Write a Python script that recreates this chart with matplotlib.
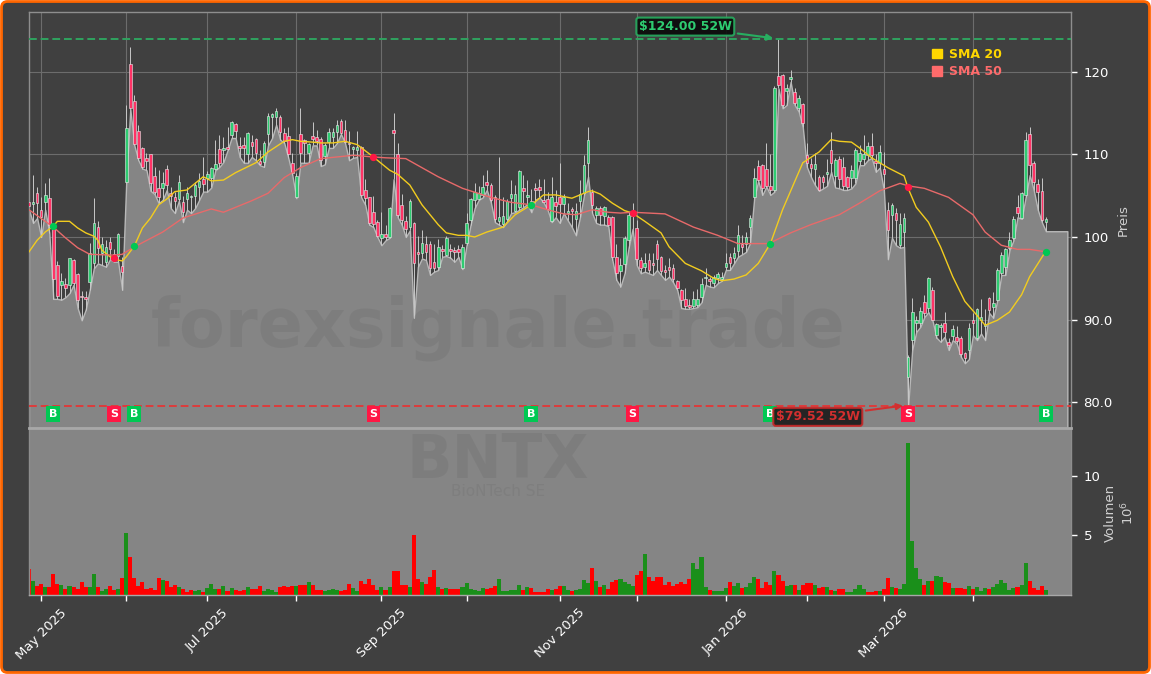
import matplotlib
matplotlib.use("Agg")
import matplotlib.pyplot as plt
from matplotlib.patches import FancyBboxPatch, Patch
from matplotlib.transforms import IdentityTransform
import numpy as np

opens = [
    104.2, 104.0, 105.3, 103.3, 104.2, 104.7, 101.3, 96.6, 94.2, 94.3,
    94.2, 97.2, 95.5, 92.9, 92.7, 94.5, 96.9, 101.2, 98.0, 97.0,
    99.4, 97.9, 97.7, 96.5, 106.7, 121.0, 116.5, 112.8, 110.8, 109.6,
    110.0, 107.4, 105.9, 105.9, 108.2, 105.3, 104.8, 104.6, 104.2, 104.6,
    104.9, 105.0, 106.0, 107.0, 107.2, 107.2, 108.3, 110.7, 110.5, 110.9,
    112.4, 113.7, 111.0, 111.1, 110.0, 111.5, 111.9, 109.2, 109.1, 112.5,
    114.6, 114.5, 114.5, 112.6, 112.2, 109.0, 104.9, 112.5, 111.8, 110.2,
    112.2, 112.1, 111.9, 109.8, 111.5, 112.1, 112.7, 114.0, 113.0, 111.4,
    110.7, 110.6, 110.9, 105.7, 104.8, 103.0, 101.8, 99.9, 100.4, 100.0,
    113.0, 110.0, 103.9, 101.9, 101.2, 101.7, 98.2, 98.0, 99.2, 99.2,
    97.0, 96.4, 98.5, 97.8, 98.5, 98.4, 98.5, 96.2, 99.3, 102.0,
    104.5, 104.6, 105.1, 106.7, 106.3, 104.8, 101.9, 101.6, 102.2, 104.7,
    103.2, 103.6, 105.9, 104.9, 104.4, 105.9, 106.0, 104.5, 104.6, 101.9,
    104.2, 104.8, 104.0, 102.9, 103.4, 102.2, 104.4, 105.3, 109.0, 105.5,
    102.7, 103.5, 102.6, 102.4, 102.4, 97.6, 95.9, 96.7, 99.6, 102.5,
    101.1, 97.2, 96.4, 97.2, 96.8, 99.2, 97.6, 96.0, 96.4, 96.2,
    94.7, 93.6, 92.5, 91.7, 91.6, 91.7, 92.7, 95.0, 94.9, 94.4,
    95.0, 94.9, 96.4, 97.6, 97.5, 98.3, 99.1, 99.1, 101.2, 104.8,
    108.6, 108.7, 108.3, 106.2, 105.7, 119.5, 119.6, 117.7, 119.2, 117.6,
    115.6, 116.1, 109.9, 108.9, 108.2, 107.3, 107.3, 107.6, 110.5, 107.4,
    109.5, 108.5, 107.3, 107.2, 107.2, 109.2, 109.5, 109.9, 111.0, 109.2,
    109.0, 108.2, 103.3, 102.7, 102.9, 99.0, 100.6, 83.0, 87.5, 89.6,
    89.6, 92.1, 91.4, 93.6, 88.1, 89.1, 89.6, 87.3, 88.0, 87.9,
    87.8, 85.9, 86.3, 89.9, 87.8, 90.0, 89.2, 92.6, 91.5, 92.4,
    95.6, 96.4, 98.7, 99.9, 103.6, 102.3, 105.1, 112.5, 109.0, 106.4,
    105.6, 101.8,
]
highs = [
    107.8, 107.5, 106.0, 104.8, 106.5, 107.2, 101.5, 97.1, 95.6, 95.0,
    97.5, 97.3, 95.6, 93.5, 93.4, 99.3, 104.7, 101.9, 100.0, 99.6,
    100.0, 98.6, 100.5, 97.6, 116.0, 123.0, 117.2, 113.6, 110.9, 110.2,
    110.1, 108.5, 108.1, 107.9, 108.7, 106.0, 105.5, 107.5, 105.0, 106.0,
    105.1, 106.7, 107.8, 109.7, 108.0, 108.5, 111.8, 112.4, 112.1, 113.3,
    114.1, 113.8, 112.1, 112.1, 112.7, 112.4, 112.0, 110.5, 111.6, 115.0,
    115.0, 115.6, 114.8, 113.2, 113.3, 110.2, 107.7, 115.6, 111.9, 111.4,
    113.9, 113.0, 112.1, 111.4, 113.2, 113.2, 114.2, 114.3, 114.2, 112.9,
    111.0, 112.8, 111.0, 107.0, 104.9, 105.0, 102.0, 103.0, 101.5, 103.6,
    115.0, 111.4, 105.2, 102.5, 104.6, 101.8, 100.1, 100.8, 100.1, 99.5,
    99.2, 99.7, 99.0, 100.1, 99.2, 98.8, 99.0, 99.2, 102.9, 104.7,
    106.5, 106.2, 107.5, 108.1, 106.5, 105.1, 109.7, 104.8, 104.6, 106.9,
    106.3, 108.1, 107.5, 106.9, 105.8, 106.6, 107.0, 107.0, 105.4, 107.3,
    105.7, 109.0, 105.2, 104.1, 103.6, 104.1, 106.9, 109.9, 113.3, 105.8,
    103.8, 103.8, 103.8, 102.7, 102.6, 99.2, 97.5, 100.1, 103.0, 104.1,
    102.0, 97.6, 98.1, 98.0, 98.1, 99.6, 97.7, 96.6, 97.4, 96.7,
    94.8, 93.7, 93.8, 92.5, 93.5, 93.7, 95.0, 96.2, 95.2, 95.4,
    95.7, 95.8, 98.0, 98.0, 98.8, 101.5, 100.2, 100.6, 102.7, 108.4,
    109.3, 108.9, 111.4, 110.1, 118.3, 124.0, 119.7, 118.6, 120.2, 118.0,
    117.2, 116.3, 111.4, 109.6, 110.2, 107.5, 107.5, 109.5, 112.7, 109.6,
    109.8, 109.7, 107.4, 108.7, 110.8, 111.2, 112.4, 111.5, 112.6, 110.0,
    111.2, 110.3, 104.2, 104.1, 103.5, 102.9, 102.9, 85.7, 92.6, 90.4,
    91.5, 93.0, 95.2, 94.0, 89.6, 89.6, 90.9, 87.8, 89.3, 89.2,
    88.0, 86.1, 89.6, 90.8, 91.4, 92.5, 91.3, 92.7, 93.3, 96.2,
    98.2, 98.7, 100.6, 102.5, 105.1, 105.5, 112.7, 113.3, 109.2, 107.0,
    107.1, 102.4,
]
lows = [
    103.3, 101.7, 102.3, 100.0, 103.3, 100.5, 92.5, 92.5, 92.4, 92.7,
    93.2, 94.2, 91.4, 89.9, 91.2, 93.6, 96.2, 96.8, 96.6, 96.4,
    97.3, 97.0, 97.0, 93.6, 106.6, 115.5, 111.1, 109.3, 108.3, 108.1,
    105.6, 105.2, 104.1, 104.5, 105.7, 103.5, 102.9, 104.4, 101.8, 103.3,
    102.9, 103.5, 104.5, 105.5, 105.5, 106.0, 108.1, 108.5, 109.1, 110.5,
    112.0, 112.0, 109.7, 109.0, 109.0, 109.7, 109.3, 108.7, 108.5, 111.1,
    112.0, 113.6, 111.8, 111.4, 109.6, 107.5, 104.7, 109.0, 109.0, 109.0,
    111.1, 111.1, 108.6, 108.8, 110.8, 110.8, 111.4, 112.5, 111.4, 109.3,
    109.6, 109.7, 104.8, 103.9, 101.5, 101.2, 100.0, 99.0, 99.6, 99.9,
    107.0, 102.4, 101.5, 100.0, 100.8, 90.2, 96.4, 97.4, 97.2, 95.4,
    95.8, 96.0, 97.6, 97.7, 97.5, 97.0, 97.6, 96.1, 99.0, 101.5,
    103.5, 104.5, 104.8, 105.7, 104.2, 101.8, 101.5, 101.2, 101.9, 102.9,
    103.0, 103.3, 103.6, 104.0, 103.0, 104.5, 104.8, 104.2, 103.3, 101.8,
    102.4, 101.7, 102.9, 102.0, 101.2, 100.2, 102.4, 105.1, 107.3, 102.9,
    101.7, 101.5, 101.5, 101.3, 97.2, 94.8, 94.0, 95.6, 98.7, 101.0,
    96.6, 95.6, 95.8, 95.6, 95.4, 96.0, 95.4, 94.8, 95.2, 94.5,
    93.6, 91.4, 91.3, 91.3, 91.4, 91.5, 92.1, 94.2, 94.0, 93.9,
    94.4, 94.7, 96.0, 96.0, 96.8, 97.6, 97.9, 98.2, 99.3, 104.7,
    106.8, 105.1, 106.1, 105.1, 105.5, 118.0, 115.6, 116.0, 118.8, 116.0,
    115.2, 113.3, 108.5, 107.3, 106.3, 105.6, 105.9, 106.2, 107.9, 106.0,
    105.9, 105.7, 105.7, 105.9, 106.5, 108.7, 108.7, 109.3, 109.6, 107.9,
    108.4, 105.7, 97.3, 99.9, 99.0, 98.7, 98.8, 79.52, 86.3, 88.5,
    89.1, 90.3, 90.9, 89.9, 87.8, 87.3, 87.9, 86.3, 87.5, 87.1,
    85.5, 84.7, 85.2, 88.1, 87.5, 88.3, 87.5, 90.8, 90.2, 92.3,
    95.4, 95.4, 98.4, 99.6, 102.4, 102.2, 104.8, 107.5, 105.7, 103.3,
    101.8, 100.7,
]
closes = [
    103.7, 104.2, 104.1, 102.4, 105.1, 101.5, 94.9, 92.8, 94.7, 93.8,
    97.4, 94.4, 92.4, 92.7, 92.5, 98.0, 101.7, 98.7, 99.2, 98.8,
    98.5, 97.5, 100.4, 95.8, 113.2, 115.6, 111.3, 109.6, 108.5, 109.2,
    106.5, 105.5, 104.8, 106.5, 106.3, 105.0, 104.4, 106.7, 103.0, 105.3,
    105.0, 106.3, 106.8, 106.4, 107.6, 108.4, 108.9, 109.0, 110.8, 110.7,
    113.9, 112.8, 110.8, 110.8, 112.6, 111.0, 110.2, 108.9, 111.4, 114.7,
    114.9, 115.3, 112.7, 111.6, 110.0, 107.8, 107.4, 110.2, 111.4, 111.3,
    111.9, 111.6, 109.3, 111.2, 112.7, 112.7, 113.6, 112.6, 111.5, 111.3,
    110.9, 110.9, 105.1, 104.7, 101.7, 101.6, 100.1, 100.4, 100.0, 103.5,
    112.6, 102.7, 102.0, 101.0, 104.4, 96.8, 97.9, 99.3, 98.2, 96.2,
    96.2, 98.8, 98.3, 99.9, 98.3, 98.2, 98.2, 98.8, 101.7, 104.6,
    105.5, 105.3, 106.0, 106.3, 104.5, 102.2, 102.4, 102.5, 104.4, 105.2,
    105.2, 108.0, 105.6, 105.1, 103.9, 105.7, 105.7, 104.3, 103.4, 104.8,
    103.8, 104.0, 104.8, 103.2, 103.2, 103.2, 105.2, 108.7, 111.8, 103.9,
    103.5, 102.7, 103.6, 101.5, 97.6, 95.6, 96.6, 99.9, 102.7, 103.0,
    97.3, 96.2, 96.8, 96.0, 96.6, 97.3, 95.9, 95.8, 96.0, 94.9,
    93.8, 92.4, 91.6, 91.5, 92.5, 92.5, 94.3, 95.2, 94.7, 95.2,
    95.5, 95.2, 96.8, 96.8, 98.1, 100.2, 98.8, 100.0, 102.3, 107.1,
    106.9, 105.9, 106.2, 105.7, 118.0, 118.4, 116.0, 118.0, 119.4, 116.2,
    116.8, 113.8, 109.0, 108.4, 108.9, 105.7, 106.7, 107.9, 109.0, 109.3,
    107.0, 106.2, 106.0, 108.1, 110.5, 110.2, 110.0, 111.0, 109.9, 109.0,
    110.3, 107.6, 100.8, 103.9, 102.0, 101.6, 102.3, 85.4, 90.9, 90.0,
    91.0, 90.8, 95.0, 90.0, 89.5, 89.3, 88.5, 86.9, 88.8, 87.4,
    85.8, 85.3, 89.0, 89.6, 91.3, 90.3, 89.4, 91.2, 92.0, 96.0,
    97.8, 98.5, 99.6, 102.2, 102.9, 105.3, 111.8, 108.7, 106.7, 105.5,
    102.0, 102.2,
]
volumes = [
    2.17, 1.17, 0.75, 0.92, 0.67, 0.67, 1.75, 0.92, 0.83, 0.5,
    0.75, 0.67, 0.5, 1.08, 0.67, 0.67, 1.75, 0.67, 0.33, 0.5,
    0.75, 0.42, 0.5, 1.42, 5.25, 3.17, 1.42, 0.75, 1.08, 0.5,
    0.58, 0.42, 1.42, 1.25, 1.17, 0.67, 0.83, 0.67, 0.5, 0.25,
    0.42, 0.33, 0.42, 0.25, 0.58, 0.92, 0.5, 0.5, 0.75, 0.33,
    0.58, 0.42, 0.33, 0.42, 0.67, 0.5, 0.5, 0.75, 0.33, 0.5,
    0.42, 0.25, 0.67, 0.75, 0.67, 0.75, 0.75, 0.83, 0.83, 1.08,
    0.83, 0.42, 0.42, 0.33, 0.42, 0.5, 0.42, 0.33, 0.42, 0.92,
    0.58, 0.33, 1.17, 0.92, 1.33, 0.83, 0.42, 0.67, 0.42, 0.67,
    2.0, 2.0, 0.83, 0.83, 0.67, 5.08, 1.33, 1.08, 0.92, 1.5,
    2.08, 0.67, 0.5, 0.58, 0.5, 0.5, 0.5, 0.67, 1.0, 0.5,
    0.42, 0.33, 0.58, 0.5, 0.58, 0.75, 1.33, 0.33, 0.33, 0.42,
    0.42, 0.83, 0.42, 0.67, 0.58, 0.25, 0.25, 0.25, 0.5, 0.42,
    0.5, 0.75, 0.75, 0.42, 0.33, 0.42, 0.5, 1.25, 1.0, 2.25,
    1.17, 0.67, 0.83, 0.5, 1.08, 1.25, 1.33, 1.08, 0.92, 0.75,
    1.67, 2.0, 3.42, 1.5, 1.17, 1.5, 1.5, 0.83, 1.08, 0.75,
    0.92, 1.08, 0.92, 1.33, 2.67, 2.17, 3.17, 0.67, 0.42, 0.33,
    0.33, 0.33, 0.58, 1.08, 0.75, 1.0, 0.58, 0.67, 1.0, 1.5,
    1.33, 0.6, 1.08, 0.83, 2.0, 1.67, 1.17, 0.75, 0.83, 0.83,
    0.42, 0.83, 1.0, 1.0, 0.83, 0.58, 0.67, 0.67, 0.42, 0.33,
    0.5, 0.5, 0.25, 0.25, 0.5, 0.83, 0.5, 0.25, 0.25, 0.33,
    0.33, 0.5, 1.42, 0.67, 0.58, 0.5, 0.92, 12.75, 4.5, 2.25,
    1.33, 0.83, 1.17, 1.17, 1.58, 1.5, 1.08, 1.0, 0.58, 0.58,
    0.58, 0.5, 0.75, 0.5, 0.67, 0.33, 0.58, 0.5, 0.67, 0.92,
    1.25, 1.0, 0.42, 0.58, 0.67, 0.83, 2.67, 1.17, 0.58, 0.42,
    0.75, 0.42,
]
# r / g per volume bar
vol_dir = (
    "rgrrgrrrgr" "grrrrggrgg" "rrgrgrrrrr" "rrrgrrrgrr" "rggrgggrgr"
    "grrrgrrrgg" "ggrrrrgrrg" "rrrggggrrr" "ggrrrrrgrg" "rrrrgrrgrr"
    "rgrgrrrggg" "gggrrrgggg" "ggrgrrrrrg" "rrggrggggr" "grgrrrgggg"
    "rrgrrrrrrr" "rrrrggggrg" "gggrggrggg" "rrrrgrrggr" "grrrgrrgrg"
    "rrgggggrrr" "grrgrggggg" "grgrggrrgr" "rrgrgggrgg" "ggggrggrrr"
    "rg"
)

# level of the grey area after the last session
area_tail = [100.7, 100.7, 100.7, 100.7, 100.7]

sma20_idx = [0, 2, 4, 6, 7, 10, 12, 14, 16, 17, 18, 19, 20, 21, 22, 23, 24, 26, 28, 30,
             32, 34, 36, 39, 43, 45, 48, 51, 56, 59, 63, 65, 67, 70, 72, 75, 78, 81, 85, 89,
             91, 94, 97, 101, 103, 106, 108, 110, 113, 117, 120, 124, 127, 130, 134, 138, 139,
             141, 144, 147, 149, 152, 156, 158, 162, 166, 169, 171, 174, 177, 180, 183, 186,
             191, 195, 198, 200, 203, 205, 208, 212, 216, 217, 219, 222, 225, 228, 231, 234,
             236, 239, 242, 245, 247, 251]
sma20_val = [98.2, 99.6, 100.6, 101.3, 101.9, 101.9, 101.1, 100.5, 100.1, 99.6, 98.4, 98.0, 97.6, 97.5,
             97.2, 97.1, 97.6, 98.9, 101.1, 102.3, 103.9, 104.6, 105.5, 105.7, 107.3, 106.8, 106.9,
             107.8, 109.0, 110.3, 111.6, 111.8, 111.6, 111.5, 111.4, 111.4, 111.6, 111.2, 109.7, 108.1,
             107.6, 106.3, 103.9, 101.5, 100.5, 100.2, 100.2, 100.0, 100.6, 101.2, 102.7, 103.9, 105.1,
             105.1, 104.7, 105.5, 105.6, 105.2, 104.1, 103.2, 102.9, 101.9, 100.5, 98.8, 96.8, 95.9,
             95.0, 94.7, 94.9, 95.4, 96.8, 99.2, 103.3, 109.0, 110.3, 111.8, 111.6, 111.5, 110.8,
             109.6, 108.4, 107.4, 105.9, 103.6, 101.8, 98.8, 95.2, 92.2, 90.5, 89.3, 89.9, 90.9,
             93.0, 95.2, 98.3]
sma50_idx = [0, 6, 9, 12, 15, 21, 23, 26, 33, 38, 45, 48, 55, 59, 63, 67, 72, 80, 85, 88, 93, 97,
             101, 107, 114, 119, 124, 128, 132, 135, 139, 143, 146, 149, 157, 164, 170, 175, 182,
             183, 188, 193, 200, 205, 210, 215, 217, 221, 227, 233, 236, 240, 244, 247, 251]
sma50_val = [103.3, 101.2, 99.9, 98.7, 97.9, 97.8, 97.9, 98.8, 100.6, 102.3, 103.4, 103.0, 104.4, 105.3,
             107.2, 108.4, 109.5, 109.9, 109.7, 109.6, 109.5, 108.4, 107.3, 105.9, 104.8, 104.2, 103.9,
             103.3, 102.8, 102.7, 103.3, 103.0, 102.9, 103.0, 102.8, 101.2, 100.2, 99.2, 99.2, 99.3,
             100.5, 101.5, 102.7, 104.1, 105.6, 106.5, 106.2, 105.9, 104.8, 102.7, 100.6, 99.0, 98.5,
             98.5, 98.2]

signal_idx = [6, 21, 26, 85, 124, 149, 183, 217, 251]
signal_val = [101.3, 97.5, 98.9, 109.7, 103.9, 102.9, 99.2, 106.1, 98.2]
signal_txt = ["B", "S", "B", "S", "B", "S", "B", "S", "B"]

month_ticks = [3, 24, 44, 66, 87, 108, 131, 150, 172, 192, 211, 233]
month_labels = ["May 2025", "", "Jul 2025", "", "Sep 2025", "", "Nov 2025", "", "Jan 2026", "", "Mar 2026", ""]
price_ticks = [80, 90, 100, 110, 120]
price_labels = ["80.0", "90.0", "100", "110", "120"]

high_52w = 124.00
low_52w = 79.52

BG = "#404040"
AREA = "#858585"
GREEN = "#00c853"
RED = "#ff1744"

W, H = 1151, 674
fig = plt.figure(figsize=(W / 100, H / 100), dpi=100, facecolor="white")
fig.add_artist(FancyBboxPatch((1.5, 1.5), W - 3, H - 3, boxstyle="round,pad=0,rounding_size=6",
                              transform=IdentityTransform(), facecolor=BG, edgecolor="#ff6600",
                              linewidth=2, zorder=-10))

ax = fig.add_axes([29 / W, 1 - 428 / H, (1071 - 29) / W, (428 - 12) / H], facecolor=BG)
vax = fig.add_axes([29 / W, 1 - 595 / H, (1071 - 29) / W, (595 - 428) / H], facecolor=AREA)

x = np.arange(len(closes))

# grey area under the lows, runs on a few sessions past the last candle
area_x = np.append(x, [252, 253, 254, 255, 256.3])
area_y = np.array(lows + area_tail)
ax.fill_between(area_x, area_y, 76.85, facecolor=AREA, edgecolor="#b8b8b8", linewidth=1, zorder=1)

# candles
up_flags = np.array(closes) >= np.array(opens)
body_colors = ["#2ecc71" if u else "#ff3366" for u in up_flags]
ax.vlines(x, lows, highs, color="#c8c8c8", linewidth=0.7, zorder=2)
ax.bar(x, np.array(closes) - np.array(opens), bottom=opens, width=0.65, color=body_colors,
       edgecolor="#eeeeee", linewidth=0.4, zorder=3)

ax.plot(sma20_idx, sma20_val, color="#f2cc1f", linewidth=1, zorder=4)
ax.plot(sma50_idx, sma50_val, color="#e86a6a", linewidth=1, zorder=4)

ax.axhline(high_52w, color="#2fa35f", linestyle=(0, (4, 2)), linewidth=1.4, zorder=4)
ax.axhline(low_52w, color="#dd3c3c", linestyle=(0, (4, 2)), linewidth=1.4, zorder=4)

for i, v, t in zip(signal_idx, signal_val, signal_txt):
    c = GREEN if t == "B" else RED
    ax.scatter([i], [v], s=18, color=c, zorder=5)
    ax.text(i, 78.55, t, color="white", fontsize=8, fontweight="bold", ha="center", va="center", zorder=6,
            bbox=dict(boxstyle="square,pad=0.25", facecolor=c, edgecolor="none"))

ax.annotate("$124.00 52W", xy=(184.4, 124.05), xytext=(162, 125.5), color="#2ecc71", fontsize=9,
            fontweight="bold", ha="center", va="center", zorder=7,
            bbox=dict(boxstyle="round,pad=0.2", facecolor="#0a0a0a", edgecolor="#27ae60", linewidth=1.5, alpha=0.9),
            arrowprops=dict(arrowstyle="-|>", color="#27ae60", linewidth=1.5))
ax.annotate("$79.52 52W", xy=(216.4, 79.6), xytext=(194.7, 78.2), color="#d32f2f", fontsize=9,
            fontweight="bold", ha="center", va="center", zorder=7,
            bbox=dict(boxstyle="round,pad=0.2", facecolor="#1a1a1a", edgecolor="#c62828", linewidth=1.5, alpha=0.9),
            arrowprops=dict(arrowstyle="-|>", color="#d32f2f", linewidth=1.5))

leg = ax.legend(handles=[Patch(color="#ffd700", label="SMA 20"), Patch(color="#ff6b6b", label="SMA 50")],
                loc="upper left", bbox_to_anchor=(0.867, 0.914), frameon=False,
                handlelength=0.8, handleheight=0.8, handletextpad=0.5, labelspacing=0.35,
                borderpad=0, borderaxespad=0, prop={"weight": "bold", "size": 9})
for t, c in zip(leg.get_texts(), ["#ffd700", "#ff6b6b"]):
    t.set_color(c)

ax.set_xlim(0, 257.2)
ax.set_ylim(76.85, 127.27)
ax.set_xticks(month_ticks)
ax.tick_params(axis="x", length=0, labelbottom=False)
ax.yaxis.tick_right()
ax.set_yticks(price_ticks)
ax.set_yticklabels(price_labels)
ax.tick_params(axis="y", colors="white", labelsize=9.5, length=4, width=1, pad=5)
ax.grid(True, color="#6c6c6c", linewidth=0.8, zorder=0)
ax.set_axisbelow(True)
ax.yaxis.set_label_position("right")
ax.set_ylabel("Preis", color="#d0d0d0", fontsize=9.5)
ax.yaxis.set_label_coords(1.0435, 0.5)
for s in ax.spines.values():
    s.set_color("#8e8e8e")
    s.set_linewidth(1)

# volume panel
vol_colors = ["#ff0000" if d == "r" else "#1a8f1a" for d in vol_dir]
vax.bar(x, volumes, width=1.0, color=vol_colors, linewidth=0)
vax.set_xlim(0, 257.2)
vax.set_ylim(0, 14.03)
vax.set_xticks(month_ticks)
vax.set_xticklabels(month_labels, rotation=45, ha="center")
vax.yaxis.tick_right()
vax.set_yticks([5, 10])
vax.set_yticklabels(["5", "10"])
vax.tick_params(axis="x", colors="white", labelsize=9.5, length=4, width=1, pad=4)
vax.tick_params(axis="y", colors="white", labelsize=9.5, length=4, width=1, pad=5)
vax.yaxis.set_label_position("right")
vax.set_ylabel("Volumen\n$10^{6}$", color="#d0d0d0", fontsize=9.5)
vax.yaxis.set_label_coords(1.0315, 0.49)
for name, s in vax.spines.items():
    s.set_color("#a8a8a8" if name in ("top", "bottom") else "#8e8e8e")
    s.set_linewidth(2 if name == "top" else 1)

# watermarks
fig.text(498 / W, 1 - 328 / H, "forexsignale.trade", fontsize=48, fontweight="bold", color="black",
         alpha=0.055, ha="center", va="center")
fig.text(498 / W, 1 - 462 / H, "BNTX", fontsize=43, fontweight="bold", color="black",
         alpha=0.055, ha="center", va="center")
fig.text(498 / W, 1 - 491 / H, "BioNTech SE", fontsize=11, color="black",
         alpha=0.05, ha="center", va="center")

fig.savefig("out.png", dpi=100, facecolor=fig.get_facecolor())
